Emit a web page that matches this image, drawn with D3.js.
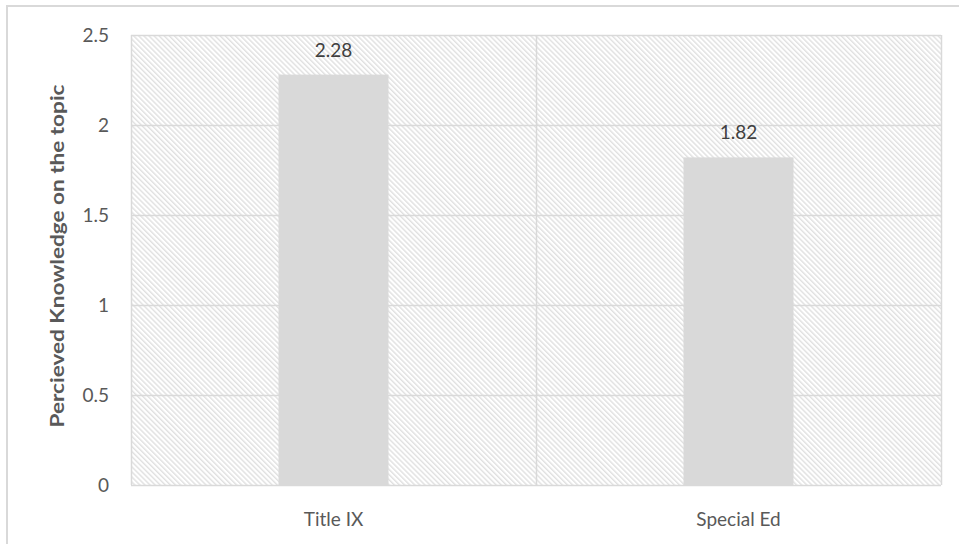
<!DOCTYPE html>
<html><head><meta charset="utf-8">
<script src="https://cdn.jsdelivr.net/npm/d3@7"></script>
<style>body{margin:0;background:#fff;}svg{display:block;font-family:Lato,"Open Sans",sans-serif;}</style>
</head><body><svg id="c" width="959" height="544"></svg>
<script>
const categories = ["Title IX", "Special Ed"];
const values = [2.28, 1.82];
const yTicks = [0, 0.5, 1, 1.5, 2, 2.5];
const yTickLabels = ["0", "0.5", "1", "1.5", "2", "2.5"];
const yTitle = "Percieved Knowledge on the topic";

const svg = d3.select("#c");
const m = {l: 131, t: 35, r: 941, b: 485};
const x = d3.scaleBand().domain(categories).range([m.l, m.r]).paddingInner(0).paddingOuter(0);
const y = d3.scaleLinear().domain([0, 2.5]).range([m.b, m.t]);
const FONT = "Lato,'Open Sans',sans-serif";

// outer chart border (top & left visible)
svg.append("path").attr("d", "M7,544 V6 H959").attr("fill", "none").attr("stroke", "#d9d9d9").attr("stroke-width", 2);

const defs = svg.append("defs");
const pat = defs.append("pattern").attr("id", "hatch").attr("patternUnits", "userSpaceOnUse")
  .attr("width", 3.6).attr("height", 3.6).attr("patternTransform", "rotate(-45)");
pat.append("rect").attr("width", 3.6).attr("height", 3.6).attr("fill", "#ffffff");
pat.append("rect").attr("x", 0).attr("width", 1.4).attr("height", 3.6).attr("fill", "#e0e0e0");

svg.append("rect").attr("x", m.l).attr("y", m.t).attr("width", m.r - m.l).attr("height", m.b - m.t).attr("fill", "url(#hatch)");

// horizontal gridlines
svg.append("g").selectAll("line").data(yTicks).join("line")
  .attr("x1", m.l).attr("x2", m.r).attr("y1", d => Math.round(y(d)) + 0.5).attr("y2", d => Math.round(y(d)) + 0.5)
  .attr("stroke", "#d9d9d9").attr("stroke-width", 1.5);
// vertical gridlines (category boundaries)
const bounds = [m.l, ...categories.slice(1).map(c => x(c)), m.r];
svg.append("g").selectAll("line").data(bounds).join("line")
  .attr("x1", d => Math.round(d) + 0.5).attr("x2", d => Math.round(d) + 0.5).attr("y1", m.t).attr("y2", m.b)
  .attr("stroke", "#d9d9d9").attr("stroke-width", 1.5);

// bars
const bw = 110;
svg.append("g").selectAll("rect").data(values).join("rect")
  .attr("x", (d, i) => x(categories[i]) + x.bandwidth() / 2 - bw / 2)
  .attr("y", d => y(d)).attr("width", bw).attr("height", d => y(0) - y(d))
  .attr("fill", "#d9d9d9");

// data labels
svg.append("g").selectAll("text").data(values).join("text")
  .attr("x", (d, i) => x(categories[i]) + x.bandwidth() / 2)
  .attr("y", d => y(d) - 18).attr("text-anchor", "middle")
  .attr("font-size", 19).attr("fill", "#404040").text(d => d.toFixed(2));

// y axis labels
const yAxis = d3.axisLeft(y).tickValues(yTicks).tickFormat((d, i) => yTickLabels[i]).tickSize(0).tickPadding(0);
const ga = svg.append("g").attr("transform", `translate(${m.l - 22},0)`).call(yAxis);
ga.select(".domain").remove();
ga.selectAll("text").attr("font-size", 19).attr("fill", "#595959").attr("font-family", FONT);

// x axis labels
const xAxis = d3.axisBottom(x).tickSize(0).tickPadding(0);
const gx = svg.append("g").attr("transform", `translate(0,${m.b + 27})`).call(xAxis);
gx.select(".domain").remove();
gx.selectAll("text").attr("font-size", 19).attr("fill", "#595959").attr("font-family", FONT);

// y title
svg.append("text").attr("transform", `translate(64,256) rotate(-90)`)
  .attr("text-anchor", "middle").attr("font-size", 19).attr("font-weight", "bold").attr("fill", "#595959")
  .attr("textLength", 343).attr("lengthAdjust", "spacingAndGlyphs")
  .text(yTitle);
</script></body></html>
